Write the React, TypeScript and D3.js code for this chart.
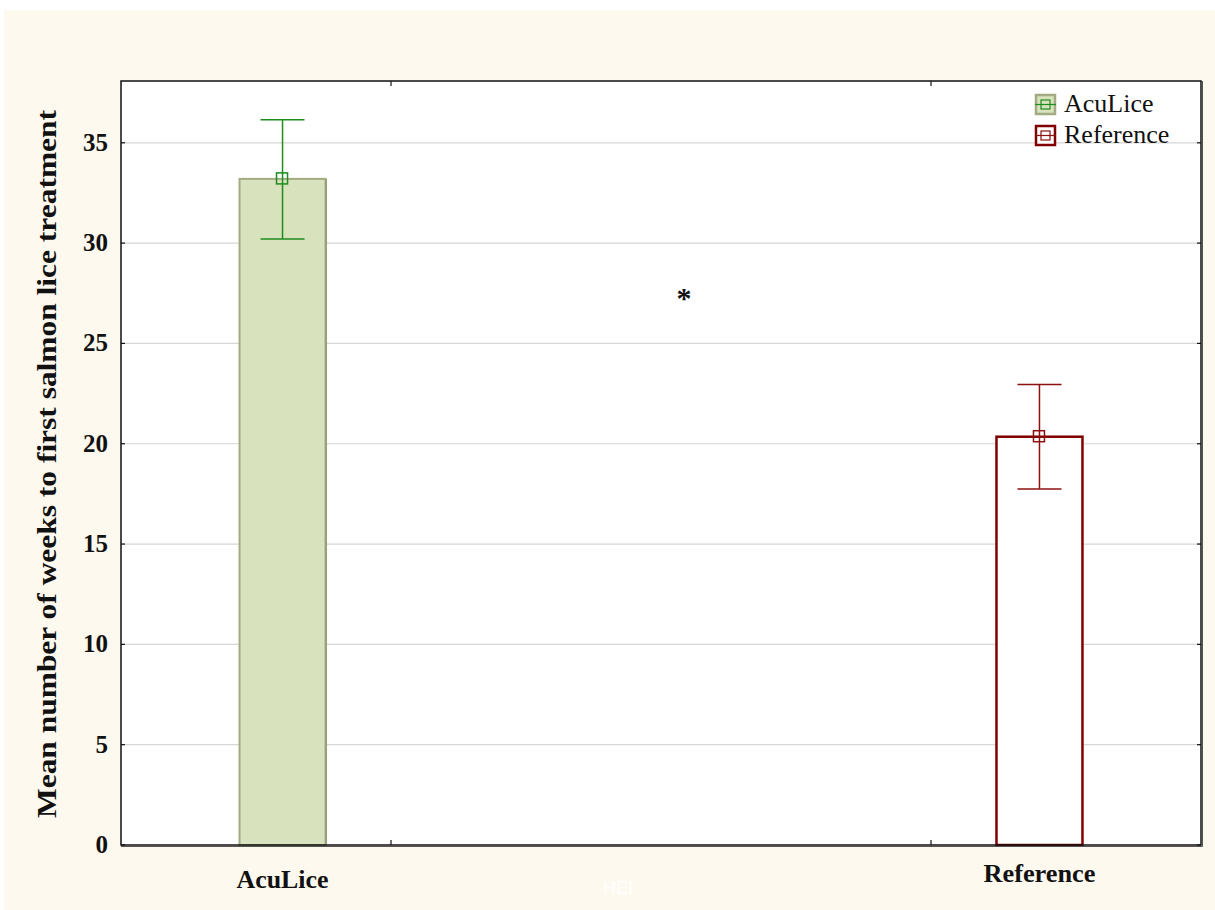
import React from "react";
import * as d3 from "d3";

const categories = ["AcuLice", "Reference"];
const means = [33.2, 20.35];
const upper = [36.15, 22.95];
const lower = [30.2, 17.75];
const yTicks = [0, 5, 10, 15, 20, 25, 30, 35];
const seriesColors = ["#1e8c1e", "#8b1010"];
const barFills = ["#d8e2bd", "#ffffff"];
const barStrokes = ["#a3ab85", "#800000"];

const W = 1215;
const H = 910;
const left = 121, right = 1201, top = 81, bottom = 845;

export default function App() {
  const y = d3.scaleLinear().domain([0, 38.08]).range([bottom, top]);
  const x = d3.scalePoint<string>().domain(categories).range([left, right]).padding(0.2134);
  const frac = d3.scaleLinear().domain([0, 1]).range([left, right]);
  const xTicks = [0.25, 0.75];
  const barW = 86;
  const capW = 44;
  const serif = "'Liberation Serif', 'Times New Roman', serif";
  const catLabelW = [92, 112];
  const catLabelY = [888, 882];

  return (
    <svg width={W} height={H} style={{ position: "absolute", left: 0, top: 0 }} fontFamily={serif}>
      <rect x={0} y={0} width={W} height={H} fill="#ffffff" />
      <rect x={4} y={10} width={W - 4} height={H - 10} fill="#fef9ee" />
      <rect x={left} y={top} width={right - left} height={bottom - top} fill="#ffffff" />
      {yTicks.filter((t) => t > 0).map((t) => (
        <line key={t} x1={left} x2={right} y1={y(t)} y2={y(t)} stroke="#d6d6d6" strokeWidth={1.2} />
      ))}
      {categories.map((c, i) => {
        const cx = x(c)!;
        return (
          <g key={c}>
            <rect x={cx - barW / 2} y={y(means[i])} width={barW} height={y(0) - y(means[i])}
              fill={barFills[i]} stroke={barStrokes[i]} strokeWidth={i === 0 ? 2 : 2.5} />
            {i === 0 && (
              <line x1={cx + barW / 2 + 0.5} x2={cx + barW / 2 + 0.5} y1={y(means[i])} y2={y(0)} stroke="#98a07a" strokeWidth={2} />
            )}
            <line x1={cx} x2={cx} y1={y(upper[i])} y2={y(lower[i])} stroke={seriesColors[i]} strokeWidth={1.5} />
            <line x1={cx - capW / 2} x2={cx + capW / 2} y1={y(upper[i])} y2={y(upper[i])} stroke={seriesColors[i]} strokeWidth={1.5} />
            <line x1={cx - capW / 2} x2={cx + capW / 2} y1={y(lower[i])} y2={y(lower[i])} stroke={seriesColors[i]} strokeWidth={1.5} />
            <rect x={cx - 6} y={y(means[i]) - 6} width={11} height={11} fill="none" stroke={seriesColors[i]} strokeWidth={1.5} />
            <text x={cx} y={catLabelY[i]} textAnchor="middle" fontSize={25} fontWeight="bold" fill="#111"
              textLength={catLabelW[i]} lengthAdjust="spacingAndGlyphs">{c}</text>
          </g>
        );
      })}
      {/* frame */}
      <rect x={left} y={top} width={right - left} height={bottom - top} fill="none" stroke="#111" strokeWidth={1.5} />
      <line x1={right + 1.5} x2={right + 1.5} y1={top} y2={bottom + 1.5} stroke="#555" strokeWidth={1} />
      <line x1={left} x2={right + 1.5} y1={bottom + 1.5} y2={bottom + 1.5} stroke="#555" strokeWidth={1} />
      {yTicks.map((t) => (
        <g key={t}>
          <line x1={left} x2={left + 4} y1={y(t)} y2={y(t)} stroke="#111" strokeWidth={1.2} />
          <line x1={right - 4} x2={right} y1={y(t)} y2={y(t)} stroke="#111" strokeWidth={1.2} />
          <text x={108} y={y(t) + 8} textAnchor="end" fontSize={25} fontWeight="bold" fill="#111">{t}</text>
        </g>
      ))}
      {xTicks.map((f) => (
        <g key={f}>
          <line x1={frac(f)} x2={frac(f)} y1={top} y2={top + 5} stroke="#111" strokeWidth={1.2} />
          <line x1={frac(f)} x2={frac(f)} y1={bottom} y2={bottom - 5} stroke="#111" strokeWidth={1.2} />
        </g>
      ))}
      <text x={684} y={308} textAnchor="middle" fontSize={30} fontWeight="bold" fill="#111">*</text>
      <text transform={`translate(56, 464) rotate(-90)`} textAnchor="middle" fontSize={27} fontWeight="bold" fill="#111"
        textLength={708} lengthAdjust="spacingAndGlyphs">
        Mean number of weeks to first salmon lice treatment
      </text>
      <text x={618} y={894} textAnchor="middle" fontSize={18} fill="#ffffff" fontFamily="'Liberation Sans', Arial, sans-serif">HEI</text>
      {/* legend */}
      {categories.map((c, i) => {
        const ly = 104 + i * 31;
        return (
          <g key={"lg" + c}>
            <rect x={1036} y={ly - 9} width={19} height={19} fill={barFills[i]} stroke={barStrokes[i]} strokeWidth={2.5} />
            <line x1={1035} x2={1056} y1={ly + 0.5} y2={ly + 0.5} stroke={seriesColors[i]} strokeWidth={1.2} />
            <rect x={1041} y={ly - 4} width={9} height={9} fill="none" stroke={seriesColors[i]} strokeWidth={1.2} />
            <text x={1064} y={ly + 8} fontSize={26} fill="#111">{c}</text>
          </g>
        );
      })}
    </svg>
  );
}
